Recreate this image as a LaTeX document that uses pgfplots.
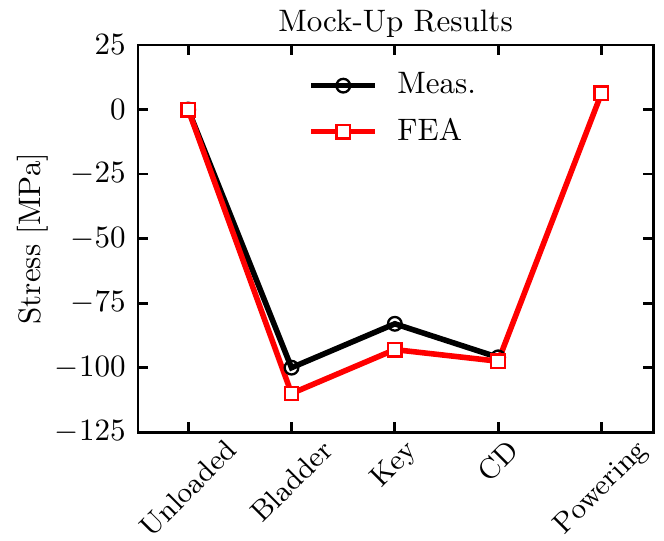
\documentclass[border=0pt]{standalone}
\usepackage{graphicx}
\usepackage{pgfplots}
\pgfplotsset{compat=1.18}
\begin{document}
\begin{tikzpicture}
\begin{axis}[
  name=ax,
  scale only axis,
  width=166pt, height=124.8pt,
  xmin=-0.485, xmax=4.5,
  ymin=-125, ymax=25,
  ytick={-125,-100,-75,-50,-25,0,25},
  xtick={0,1,2,3,4},
  xticklabels={\rotatebox{45}{Unloaded},\rotatebox{45}{Bladder},\rotatebox{45}{Key},\rotatebox{45}{CD},\rotatebox{45}{Powering}},
  x tick label style={anchor=north, inner sep=0pt, yshift=-1.6pt, font=\fontsize{9.3}{11}\selectfont},
  y tick label style={inner sep=0pt, xshift=-3.8pt},
  tick align=inside,
  tick pos=both,
  major tick length=3.3pt,
  ylabel={Stress [MPa]},
  ylabel style={inner sep=0pt},
  ylabel shift=2pt,
  title={Mock-Up Results},
  title style={inner sep=0pt, yshift=-3.8pt},
  axis line style={line width=0.9pt},
  tick style={line width=0.9pt, black},
  legend style={draw=none, fill=none, at={(0.312,0.962)}, anchor=north west, row sep=2.3pt,
    /tikz/every odd column/.append style={column sep=4.3pt}},
  legend cell align=left,
  legend image code/.code={\draw[mark repeat=2,mark phase=2] plot coordinates {(0cm,0cm) (0.36cm,0cm) (0.72cm,0cm)};},
]
\addplot[black, line width=1.8pt, mark=o, mark size=2.2pt, mark options={fill=white, line width=0.75pt}]
  coordinates {(0,0) (1,-100) (2,-83) (3,-96)};
\addlegendentry{Meas.}
\addplot[red, line width=1.8pt, mark=square*, mark size=2.2pt, mark options={fill=white, line width=0.75pt}]
  coordinates {(0,0) (1,-110) (2,-93) (3,-97.5) (4,6.3)};
\addlegendentry{FEA}
\end{axis}
\pgfresetboundingbox
\path[use as bounding box] ([shift={(-44.5pt,-34.8pt)}]ax.south west) rectangle ([shift={(3.5pt,14.5pt)}]ax.north east);
\end{tikzpicture}
\end{document}
